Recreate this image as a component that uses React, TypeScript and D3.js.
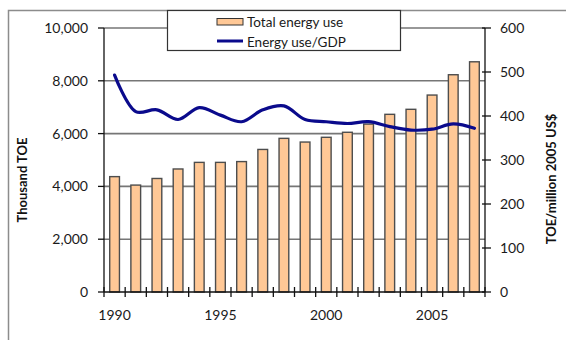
import React from "react";
import * as d3 from "d3";

const years = [1990,1991,1992,1993,1994,1995,1996,1997,1998,1999,2000,2001,2002,2003,2004,2005,2006,2007];
const totalEnergy = [4370,4050,4300,4660,4910,4910,4940,5400,5820,5680,5860,6050,6360,6730,6920,7460,8230,8720];
const energyPerGdp = [493,410,414,392,419,402,387,414,423,392,387,383,387,376,368,370,382,372];
const leftTicks = [0,2000,4000,6000,8000,10000];
const rightTicks = [0,100,200,300,400,500,600];
const xLabelYears = [1990,1995,2000,2005];

const W = 566, H = 340;
const M = { left: 104, right: 485, top: 28, bottom: 292 };
const FONT = "Lato, 'Open Sans', sans-serif";

export default function App() {
  const x = d3.scaleBand<number>().domain(years).range([M.left, M.right]).paddingInner(0).paddingOuter(0);
  const yL = d3.scaleLinear().domain([0, 10000]).range([M.bottom, M.top]);
  const yR = d3.scaleLinear().domain([0, 600]).range([M.bottom, M.top]);
  const bw = x.bandwidth();
  const barW = bw * 0.46;
  const cx = (yr: number) => (x(yr) as number) + bw / 2;
  const line = d3.line<number>()
    .x((_, i) => cx(years[i]))
    .y((v) => yR(v))
    .curve(d3.curveCatmullRom.alpha(0.5));
  const fmt = d3.format(",");

  return (
    <svg width={W} height={H} style={{ position: "absolute", left: 0, top: 0, background: "#fff" }} fontFamily={FONT}>
      {/* outer frame */}
      <rect x={8.5} y={10.5} width={700} height={500} fill="none" stroke="#8c8c8c" strokeWidth={1.5} />
      {/* gridlines */}
      {leftTicks.filter((t) => t > 0).map((t) => (
        <line key={"g" + t} x1={M.left} x2={M.right} y1={yL(t)} y2={yL(t)} stroke="#767676" strokeWidth={1.6} />
      ))}
      {/* bars */}
      {years.map((yr, i) => (
        <rect key={"b" + yr} x={cx(yr) - barW / 2} y={yL(totalEnergy[i])} width={barW}
          height={M.bottom - yL(totalEnergy[i])} fill="#ffc896" stroke="#4d4d4d" strokeWidth={1.4} />
      ))}
      {/* line */}
      <path d={line(energyPerGdp) || ""} fill="none" stroke="#0a0a8c" strokeWidth={3.2} strokeLinejoin="round" strokeLinecap="round" />
      {/* left axis */}
      <line x1={M.left} x2={M.left} y1={M.top} y2={M.bottom} stroke="#111" strokeWidth={1.3} />
      {leftTicks.map((t) => (
        <g key={"l" + t}>
          <line x1={M.left - 6} x2={M.left} y1={yL(t)} y2={yL(t)} stroke="#111" strokeWidth={1.3} />
          <text x={88} y={yL(t)} dy="0.35em" textAnchor="end" fontSize={14} fill="#1a1a1a">{fmt(t)}</text>
        </g>
      ))}
      {/* right axis */}
      <line x1={M.right} x2={M.right} y1={M.top} y2={M.bottom} stroke="#111" strokeWidth={1.3} />
      {rightTicks.map((t) => (
        <g key={"r" + t}>
          <line x1={M.right - 3} x2={M.right + 6} y1={yR(t)} y2={yR(t)} stroke="#111" strokeWidth={1.3} />
          <text x={500} y={yR(t)} dy="0.35em" textAnchor="start" fontSize={14} fill="#1a1a1a">{t}</text>
        </g>
      ))}
      {/* x axis */}
      <line x1={M.left} x2={M.right} y1={M.bottom} y2={M.bottom} stroke="#111" strokeWidth={1.3} />
      {[...years.map((yr) => x(yr) as number), M.right].map((px, i) => (
        <line key={"xt" + i} x1={px} x2={px} y1={M.bottom - 5} y2={M.bottom + 5} stroke="#111" strokeWidth={1.3} />
      ))}
      {xLabelYears.map((yr) => (
        <text key={"xl" + yr} x={cx(yr)} y={320} textAnchor="middle" fontSize={14} fill="#1a1a1a">{yr}</text>
      ))}
      {/* axis titles */}
      <text transform={`translate(27,180) rotate(-90)`} textAnchor="middle" fontSize={13} fontWeight="bold" fill="#111">Thousand TOE</text>
      <text transform={`translate(556,179) rotate(-90)`} textAnchor="middle" fontSize={13} fontWeight="bold" fill="#111">TOE/million 2005 US$</text>
      {/* legend */}
      <rect x={167.5} y={10.5} width={233} height={40} fill="#fff" stroke="#333" strokeWidth={1.2} />
      <rect x={217} y={18.5} width={26} height={6.5} fill="#ffc896" stroke="#333" strokeWidth={1} />
      <text x={247} y={22} dy="0.35em" fontSize={13.5} fill="#1a1a1a">Total energy use</text>
      <line x1={217} x2={243} y1={41} y2={41} stroke="#0a0a8c" strokeWidth={3} />
      <text x={247} y={42} dy="0.35em" fontSize={13.5} fill="#1a1a1a">Energy use/GDP</text>
    </svg>
  );
}
